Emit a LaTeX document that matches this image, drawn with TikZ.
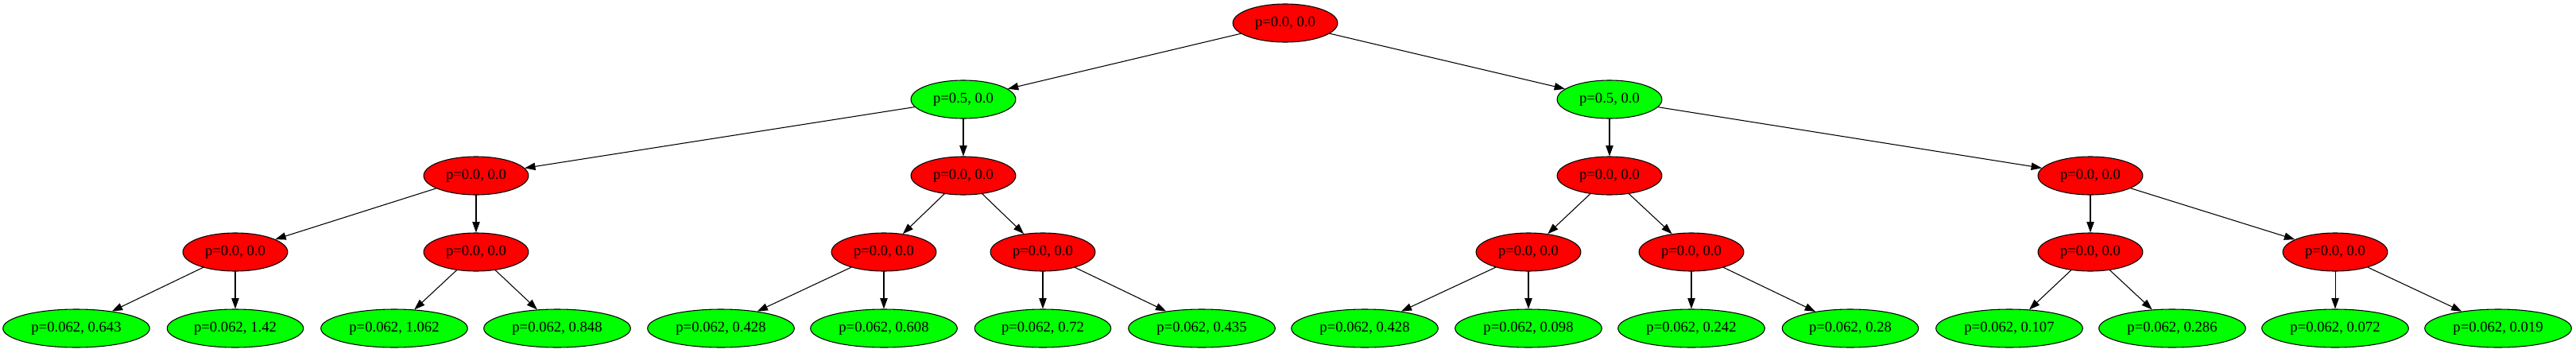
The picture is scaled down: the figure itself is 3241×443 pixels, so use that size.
\documentclass[tikz,border=0pt]{standalone}
\usepackage{fontspec}
\setmainfont{Liberation Serif}
\usepackage{tikz}
\usetikzlibrary{arrows.meta}
\usetikzlibrary{shapes.geometric}
\definecolor{nodered}{rgb}{1,0,0}
\definecolor{nodegreen}{rgb}{0,1,0}

\begin{document}
\begin{tikzpicture}[line cap=round,line join=round,x=0.75pt,y=-0.75pt,
  state/.style={ellipse, draw=black, line width=0.8pt, minimum height=36pt,
    inner xsep=6.5pt, inner ysep=3pt, font=\fontsize{14pt}{16pt}\selectfont},
  redstate/.style={state, fill=nodered},
  greenstate/.style={state, fill=nodegreen},
  edge/.style={line width=0.8pt, -{Triangle[length=10pt, width=7pt]}}]
\useasboundingbox (0,0) rectangle (3241,443);
\node[redstate] (r) at (1617,29) {p=0.0, 0.0};
\node[greenstate] (g1) at (1212,125) {p=0.5, 0.0};
\node[greenstate] (g2) at (2025,125) {p=0.5, 0.0};
\node[redstate] (h1) at (599,221) {p=0.0, 0.0};
\node[redstate] (h2) at (1212,221) {p=0.0, 0.0};
\node[redstate] (h3) at (2025,221) {p=0.0, 0.0};
\node[redstate] (h4) at (2630,221) {p=0.0, 0.0};
\node[redstate] (k1) at (296,317) {p=0.0, 0.0};
\node[redstate] (k2) at (599,317) {p=0.0, 0.0};
\node[redstate] (k3) at (1112,317) {p=0.0, 0.0};
\node[redstate] (k4) at (1312,317) {p=0.0, 0.0};
\node[redstate] (k5) at (1923,317) {p=0.0, 0.0};
\node[redstate] (k6) at (2128,317) {p=0.0, 0.0};
\node[redstate] (k7) at (2630,317) {p=0.0, 0.0};
\node[redstate] (k8) at (2938,317) {p=0.0, 0.0};
\node[greenstate] (q1) at (96,413) {p=0.062, 0.643};
\node[greenstate] (q2) at (296,413) {p=0.062, 1.42};
\node[greenstate] (q3) at (496,413) {p=0.062, 1.062};
\node[greenstate] (q4) at (701,413) {p=0.062, 0.848};
\node[greenstate] (q5) at (907,413) {p=0.062, 0.428};
\node[greenstate] (q6) at (1112,413) {p=0.062, 0.608};
\node[greenstate] (q7) at (1312,413) {p=0.062, 0.72};
\node[greenstate] (q8) at (1512,413) {p=0.062, 0.435};
\node[greenstate] (q9) at (1717,413) {p=0.062, 0.428};
\node[greenstate] (q10) at (1923,413) {p=0.062, 0.098};
\node[greenstate] (q11) at (2128,413) {p=0.062, 0.242};
\node[greenstate] (q12) at (2328,413) {p=0.062, 0.28};
\node[greenstate] (q13) at (2528,413) {p=0.062, 0.107};
\node[greenstate] (q14) at (2733,413) {p=0.062, 0.286};
\node[greenstate] (q15) at (2938,413) {p=0.062, 0.072};
\node[greenstate] (q16) at (3143,413) {p=0.062, 0.019};
\draw[edge] (r) -- (g1);
\draw[edge] (r) -- (g2);
\draw[edge] (g1) -- (h1);
\draw[edge] (g1) -- (h2);
\draw[edge] (g2) -- (h3);
\draw[edge] (g2) -- (h4);
\draw[edge] (h1) -- (k1);
\draw[edge] (h1) -- (k2);
\draw[edge] (h2) -- (k3);
\draw[edge] (h2) -- (k4);
\draw[edge] (h3) -- (k5);
\draw[edge] (h3) -- (k6);
\draw[edge] (h4) -- (k7);
\draw[edge] (h4) -- (k8);
\draw[edge] (k1) -- (q1);
\draw[edge] (k1) -- (q2);
\draw[edge] (k2) -- (q3);
\draw[edge] (k2) -- (q4);
\draw[edge] (k3) -- (q5);
\draw[edge] (k3) -- (q6);
\draw[edge] (k4) -- (q7);
\draw[edge] (k4) -- (q8);
\draw[edge] (k5) -- (q9);
\draw[edge] (k5) -- (q10);
\draw[edge] (k6) -- (q11);
\draw[edge] (k6) -- (q12);
\draw[edge] (k7) -- (q13);
\draw[edge] (k7) -- (q14);
\draw[edge] (k8) -- (q15);
\draw[edge] (k8) -- (q16);
\end{tikzpicture}
\end{document}
